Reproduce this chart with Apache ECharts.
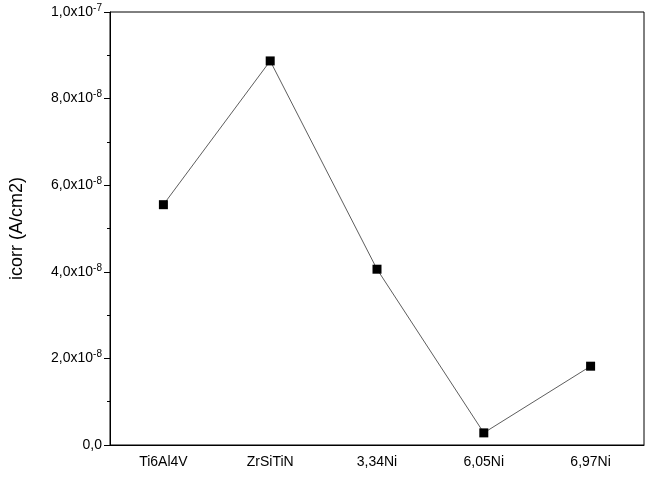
<!DOCTYPE html>
<html><head><meta charset="utf-8">
<script src="https://cdn.jsdelivr.net/npm/echarts@6/dist/echarts.min.js"></script>
<style>html,body{margin:0;background:#fff}#c{width:650px;height:480px}</style>
</head><body><div id="c"></div>
<script>
var categories = ['Ti6Al4V','ZrSiTiN','3,34Ni','6,05Ni','6,97Ni'];
var icorr = [5.55e-8, 8.87e-8, 4.06e-8, 0.28e-8, 1.82e-8];
var yTickMantissa = ['0,0','2,0','4,0','6,0','8,0','1,0'];
var yTickExp = ['', '-8','-8','-8','-8','-7'];
var chart = echarts.init(document.getElementById('c'));
chart.setOption({
  animation:false,
  grid:{left:107,right:6,top:12,bottom:35,show:true,borderColor:'#000',borderWidth:1},
  xAxis:{type:'category',data:categories,boundaryGap:true,
    axisLine:{lineStyle:{color:'#000'}},axisTick:{lineStyle:{color:'#000'},length:5},
    axisLabel:{color:'#000',fontFamily:'Liberation Sans, Arial',fontSize:14,margin:10}},
  yAxis:{type:'value',min:0,max:1e-7,interval:2e-8,
    name:'icorr (A/cm2)',nameLocation:'middle',nameGap:84,
    nameTextStyle:{color:'#000',fontFamily:'Liberation Sans, Arial',fontSize:18},
    axisLine:{show:true,lineStyle:{color:'#000'}},
    axisTick:{show:true,length:6,lineStyle:{color:'#000'}},
    minorTick:{show:true,splitNumber:2,length:3,lineStyle:{color:'#000'}},
    splitLine:{show:false},
    axisLabel:{color:'#000',fontFamily:'Liberation Sans, Arial',fontSize:14,margin:8,
      formatter:function(v){
        var i=Math.round(v/2e-8);
        if(!yTickExp[i]) return yTickMantissa[i];
        return yTickMantissa[i]+'x10{s|'+yTickExp[i]+'}';
      },
      rich:{s:{fontSize:10,verticalAlign:'top',padding:[0,0,8,0],color:'#000',fontFamily:'Liberation Sans, Arial'}}}},
  series:[{type:'line',data:icorr,symbol:'rect',symbolSize:9,
    lineStyle:{color:'#333',width:0.8},itemStyle:{color:'#000'}}]
});
</script></body></html>
